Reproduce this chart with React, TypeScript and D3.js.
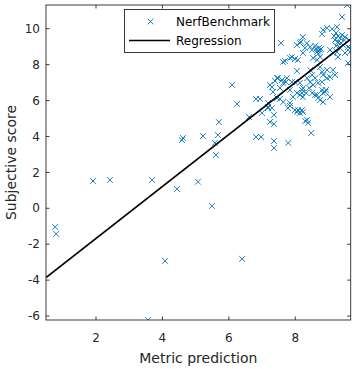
import React from "react";
import * as d3 from "d3";

const xs: number[] = [
  0.77, 0.80, 1.91, 2.42, 3.69, 4.44, 3.57, 4.08, 5.07, 5.49, 6.40,
  4.59, 4.62, 5.22, 5.67, 5.58, 5.61, 5.70, 6.10, 6.25, 6.61, 6.82, 6.94, 6.82, 6.97,
  7.00, 7.18, 7.30, 7.24, 7.36, 7.36, 7.36, 7.36, 7.79, 7.24, 7.30, 7.39, 7.48, 7.60,
  7.72, 7.54, 7.84, 7.93, 7.99, 8.08, 8.20, 8.30, 8.39, 8.48, 8.05, 7.69, 7.90, 7.99,
  8.08, 7.57, 8.23, 8.81, 8.84, 8.96, 9.11, 9.26, 9.41, 9.56,
  8.63, 8.69, 8.72, 8.75, 8.66, 8.60, 8.78, 8.69,
  9.23, 9.29, 9.35, 9.41, 9.20, 9.29, 9.38, 9.48, 9.23, 9.35, 9.44, 9.50, 9.17,
  8.05, 8.14, 8.29, 8.23, 8.54, 8.66, 8.75, 9.05, 9.14, 9.26, 9.29, 9.50, 9.59, 9.65, 9.62,
  8.45, 8.75, 8.96, 9.14, 8.96, 8.81,
  7.75, 7.64, 7.90, 8.14, 8.36, 8.51, 8.54, 8.81, 9.05, 9.20,
  8.45, 8.42, 8.69, 8.81, 8.84, 8.20, 8.14, 8.23, 8.05, 8.33, 8.60, 7.84,
  7.45, 7.54, 7.99, 8.60, 8.84, 8.23, 8.20, 8.51, 8.66, 8.69, 8.90,
  7.64, 7.84, 7.78, 8.05, 8.14, 8.23, 8.36, 8.75, 8.84, 9.05, 7.33, 7.45, 7.18, 7.18,
  7.63, 7.84, 9.59, 9.65, 8.93, 8.17, 8.35, 8.45, 8.50,
];
const ys: number[] = [
  -1.04, -1.43, 1.52, 1.58, 1.58, 1.08, -6.22, -2.93, 1.48, 0.13, -2.82,
  3.80, 3.91, 4.02, 4.08, 3.64, 2.97, 4.80, 6.87, 5.81, 5.08, 6.09, 6.09, 3.97, 3.97,
  5.31, 5.64, 5.58, 4.81, 4.70, 5.20, 3.75, 3.36, 3.64, 6.87, 6.75, 7.09, 7.25, 7.14,
  7.03, 6.09, 5.70, 6.20, 5.47, 5.47, 5.47, 4.86, 4.75, 4.19, 7.65, 8.20, 8.42, 8.31,
  8.26, 9.20, 9.54, 9.70, 9.93, 10.04, 9.98, 10.09, 10.65, 11.32,
  8.88, 8.77, 8.94, 8.82, 8.71, 9.05, 8.88, 8.60,
  9.76, 9.59, 9.48, 9.65, 9.37, 9.26, 9.20, 9.37, 9.04, 8.92, 9.09, 9.54, 9.59,
  9.09, 9.20, 8.92, 8.65, 8.37, 8.26, 8.43, 8.82, 8.65, 8.70, 8.43, 8.65, 8.09, 8.92, 9.37,
  7.70, 7.87, 7.70, 7.70, 7.25, 7.59,
  7.25, 6.98, 7.03, 6.98, 7.25, 7.42, 6.87, 7.03, 7.31, 7.42,
  7.03, 6.70, 6.98, 6.59, 6.42, 6.59, 6.31, 6.20, 6.42, 6.42, 6.31, 6.59,
  7.25, 6.70, 7.03, 7.25, 7.42, 6.70, 6.42, 6.42, 6.31, 6.14, 6.48,
  5.92, 5.86, 5.58, 5.36, 5.31, 5.36, 4.92, 6.03, 5.92, 6.20, 6.48, 6.14, 5.86, 5.58,
  8.15, 8.37, 8.98, 8.70, 6.59, 9.28, 9.19, 9.00, 8.81,
];

const xTicks = [2, 4, 6, 8];
const yTicks = [-6, -4, -2, 0, 2, 4, 6, 8, 10];
const xDomain: [number, number] = [0.494, 9.67];
const regSlope = 1.447;
const regIntercept = -4.575;
const legendLabels = ["NerfBenchmark", "Regression"];

const W = 355, H = 369;
const L = 46, R = 350.7, T = 5, B = 320;
const BLUE = "#0072BD";
const TXT = "#262626";
const FONT = "'DejaVu Sans', sans-serif";

export default function App() {
  const yExt = d3.extent(ys) as [number, number];
  const x = d3.scaleLinear().domain(xDomain).range([L, R]);
  const y = d3.scaleLinear().domain(yExt).range([B, T]);
  const lineGen = d3.line<number>().x((d) => x(d)).y((d) => y(regSlope * d + regIntercept));
  const pts = xs.map((v, i) => [v, ys[i]]);
  const m = 2.9;
  const tl = 3.5;
  return (
    <svg width={W} height={H} style={{ position: "absolute", left: 0, top: 0, background: "#fff" }}>
      <rect x={0} y={0} width={W} height={H} fill="#fff" />
      <defs>
        <clipPath id="clip">
          <rect x={L} y={T} width={R - L} height={B - T} />
        </clipPath>
      </defs>
      <g clipPath="url(#clip)">
        {pts.map(([px, py], i) => {
          const cx = x(px), cy = y(py);
          return (
            <path key={i} d={`M${cx - m},${cy - m}L${cx + m},${cy + m}M${cx - m},${cy + m}L${cx + m},${cy - m}`}
              stroke={BLUE} strokeWidth={0.9} fill="none" />
          );
        })}
        <path d={lineGen(xDomain) || ""} stroke="#000" strokeWidth={1.6} fill="none" />
      </g>
      <rect x={L} y={T} width={R - L} height={B - T} fill="none" stroke={TXT} strokeWidth={0.9} />
      {xTicks.map((t) => (
        <g key={"x" + t}>
          <line x1={x(t)} x2={x(t)} y1={B} y2={B - tl} stroke={TXT} strokeWidth={0.9} />
          <line x1={x(t)} x2={x(t)} y1={T} y2={T + tl} stroke={TXT} strokeWidth={0.9} />
          <text x={x(t)} y={342} textAnchor="middle" fontSize={12} fill={TXT} fontFamily={FONT}>{t}</text>
        </g>
      ))}
      {yTicks.map((t) => (
        <g key={"y" + t}>
          <line x1={L} x2={L + tl} y1={y(t)} y2={y(t)} stroke={TXT} strokeWidth={0.9} />
          <line x1={R} x2={R - tl} y1={y(t)} y2={y(t)} stroke={TXT} strokeWidth={0.9} />
          <text x={40} y={y(t) + 4.2} textAnchor="end" fontSize={12} fill={TXT} fontFamily={FONT}>{t}</text>
        </g>
      ))}
      <text x={(L + R) / 2} y={363} textAnchor="middle" fontSize={14} fill={TXT} fontFamily={FONT}>Metric prediction</text>
      <text transform={`translate(16,${(T + B) / 2}) rotate(-90)`} textAnchor="middle" fontSize={14} fill={TXT} fontFamily={FONT}>Subjective score</text>
      <g>
        <rect x={124.5} y={9.5} width={150} height={43} fill="#fff" stroke={TXT} strokeWidth={0.9} />
        <path d={`M${150.5 - m},${21.5 - m}L${150.5 + m},${21.5 + m}M${150.5 - m},${21.5 + m}L${150.5 + m},${21.5 - m}`} stroke={BLUE} strokeWidth={0.9} />
        <text x={176} y={25.8} fontSize={12} fill="#000" fontFamily={FONT}>{legendLabels[0]}</text>
        <line x1={129} x2={170} y1={40.5} y2={40.5} stroke="#000" strokeWidth={1.6} />
        <text x={176} y={44.8} fontSize={12} fill="#000" fontFamily={FONT}>{legendLabels[1]}</text>
      </g>
    </svg>
  );
}
